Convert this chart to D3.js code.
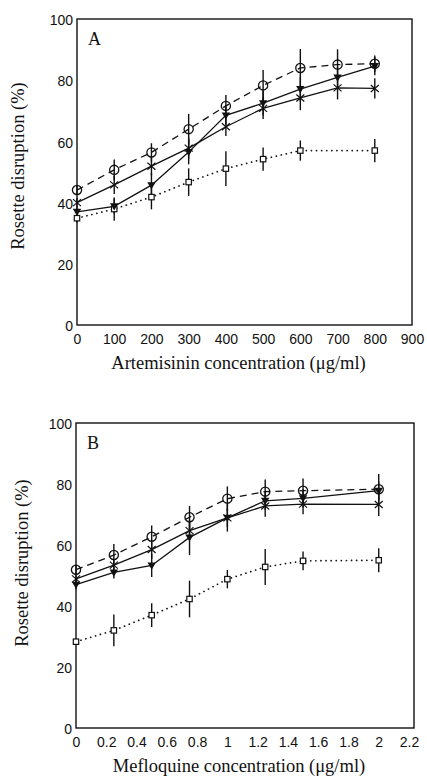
<!DOCTYPE html>
<html>
<head>
<meta charset="utf-8">
<script src="https://cdn.jsdelivr.net/npm/d3@7"></script>
<style>
  body { margin: 0; background: #fff; }
  svg { display: block; }
  .tick text { font-family: "Liberation Sans", Arial, sans-serif; font-size: 14px; fill: #111; }
  .title { font-family: "Liberation Serif", "Times New Roman", serif; fill: #111; }
</style>
</head>
<body>
<svg id="chart" width="427" height="776"></svg>
<script>
// Panel A: artemisinin (ug/ml)
const artConc = [0, 100, 200, 300, 400, 500, 600, 700, 800];
const artCircle = [44.1, 50.7, 56.4, 64.0, 71.6, 78.3, 84.0, 85.1, 85.4];
const artCircleErr = [1.5, 3.4, 3, 5, 3.6, 5, 6.2, 5, 2.7];
const artTriangle = [37.0, 38.8, 45.7, 56.5, 68.5, 72.5, 77.1, 80.9, 84.6];
const artTriangleErr = [1.5, 2.5, 4, 4, 3, 4, 4, 3.5, 3];
const artStar = [40.0, 45.8, 51.9, 57.8, 64.8, 70.8, 74.2, 77.5, 77.3];
const artStarErr = [1.5, 3, 3, 3.5, 3, 3.5, 4, 3.8, 3.3];
const artSquare = [34.9, 37.9, 41.8, 46.7, 51.1, 54.2, 57.0, null, 57.0];
const artSquareErr = [1.5, 3.8, 4, 4.5, 5.7, 3.8, 3.3, null, 3.8];
const artTicks = [0, 100, 200, 300, 400, 500, 600, 700, 800, 900];

// Panel B: mefloquine (ug/ml)
const mefConc = [0, 0.25, 0.5, 0.75, 1, 1.25, 1.5, 2];
const mefCircle = [51.9, 56.7, 62.7, 69.1, 75.2, 77.5, 77.8, 78.3];
const mefCircleErr = [1.5, 3.6, 3.7, 3.7, 4, 4, 4, 5];
const mefTriangle = [47.0, 51.0, 53.3, 62.5, 68.9, 74.5, 75.3, 77.8];
const mefTriangleErr = [1.5, 2, 3.8, 5.8, 4.5, 3, 3, 3];
const mefStar = [48.9, 53.4, 58.5, 64.7, 68.9, 72.8, 73.4, 73.3];
const mefStarErr = [1.5, 2, 3, 3, 3, 3.5, 3.3, 3.8];
const mefSquare = [28.3, 32.0, 37.0, 42.3, 48.8, 52.8, 54.8, 55.0];
const mefSquareErr = [1, 5.2, 3.9, 6, 3, 5.9, 3.1, 3.9];
const mefTicks = [0, 0.2, 0.4, 0.6, 0.8, 1, 1.2, 1.4, 1.6, 1.8, 2, 2.2];

const yTicks = [0, 20, 40, 60, 80, 100];

const svg = d3.select("#chart");
svg.append("rect").attr("width", 427).attr("height", 776).attr("fill", "#fff");

function makeSeries(xs, ys, errs, marker, dash) {
    return {
        marker: marker,
        dash: dash,
        points: xs.map((x, i) => ({ x: x, y: ys[i], e: errs[i] })).filter(p => p.y != null)
    };
}

function drawPanel(opts) {
    const { left, right, top, bottom, frameRight, domainX, ticksX, label, xTitle, series, yTitleX, yTitleY } = opts;
    const g = svg.append("g");

    const x = d3.scaleLinear().domain(domainX).range([left, right]);
    const y = d3.scaleLinear().domain([0, 100]).range([bottom, top]);

    // frame
    g.append("rect")
        .attr("x", left).attr("y", top)
        .attr("width", frameRight - left).attr("height", bottom - top)
        .attr("fill", "none").attr("stroke", "#111").attr("stroke-width", 1.4);

    const yAxis = g.append("g")
        .attr("transform", `translate(${left},0)`)
        .call(d3.axisLeft(y).tickValues(yTicks).tickSize(0).tickPadding(4));
    yAxis.select(".domain").remove();
    yAxis.selectAll("text").attr("dy", "0.4em");

    const fmt = d3.format("~g");
    const xAxis = g.append("g")
        .attr("transform", `translate(0,${bottom})`)
        .call(d3.axisBottom(x).tickValues(ticksX).tickFormat(fmt).tickSize(0).tickPadding(9));
    xAxis.select(".domain").remove();

    g.append("text").attr("class", "title")
        .attr("x", left + 11).attr("y", top + 26)
        .style("font-size", "18px")
        .text(label);

    g.append("text").attr("class", "title")
        .attr("x", (left + frameRight) / 2 - 6).attr("y", bottom + 44)
        .attr("text-anchor", "middle")
        .style("font-size", "18.5px")
        .text(xTitle);

    g.append("text").attr("class", "title")
        .attr("transform", `translate(${yTitleX},${yTitleY}) rotate(-90)`)
        .attr("text-anchor", "middle")
        .style("font-size", "18.5px")
        .text("Rosette disruption (%)");

    const line = d3.line().x(d => x(d.x)).y(d => y(d.y));

    series.forEach(s => {
        g.append("path")
            .attr("d", line(s.points))
            .attr("fill", "none")
            .attr("stroke", "#111")
            .attr("stroke-width", s.dash === "dot" ? 1.7 : 1.3)
            .attr("stroke-linecap", s.dash === "dot" ? "round" : "butt")
            .attr("stroke-dasharray", s.dash === "dash" ? "7,5" : s.dash === "dot" ? "0.1,5" : null);
    });

    series.forEach(s => {
        g.selectAll(null).data(s.points).join("line")
            .attr("x1", d => x(d.x)).attr("x2", d => x(d.x))
            .attr("y1", d => y(d.y - d.e)).attr("y2", d => y(d.y + d.e))
            .attr("stroke", "#111").attr("stroke-width", 1.4);
    });

    series.forEach(s => {
        const m = g.selectAll(null).data(s.points).join("g")
            .attr("transform", d => `translate(${x(d.x)},${y(d.y)})`);
        if (s.marker === "circle") {
            m.append("circle").attr("r", 4.6)
                .attr("fill", "none").attr("stroke", "#111").attr("stroke-width", 1.3);
        } else if (s.marker === "triangle") {
            m.append("path").attr("d", "M-4.2,-3L4.2,-3L0,4.2Z").attr("fill", "#111");
        } else if (s.marker === "star") {
            m.append("path").attr("d", "M-4,-3.5L4,3.5M-4,3.5L4,-3.5")
                .attr("stroke", "#111").attr("stroke-width", 1.2);
        } else {
            m.append("rect").attr("x", -2.7).attr("y", -2.7).attr("width", 5.4).attr("height", 5.4)
                .attr("fill", "#fff").attr("stroke", "#111").attr("stroke-width", 1.2);
        }
    });
}

drawPanel({
    left: 77, right: 412, top: 19, bottom: 325, frameRight: 412,
    domainX: [0, 900], ticksX: artTicks, label: "A", yTitleX: 24, yTitleY: 166,
    xTitle: "Artemisinin concentration (\u03bcg/ml)",
    series: [
        makeSeries(artConc, artSquare, artSquareErr, "square", "dot"),
        makeSeries(artConc, artStar, artStarErr, "star", null),
        makeSeries(artConc, artTriangle, artTriangleErr, "triangle", null),
        makeSeries(artConc, artCircle, artCircleErr, "circle", "dash")
    ]
});

drawPanel({
    left: 76, right: 409, top: 423, bottom: 728, frameRight: 414,
    domainX: [0, 2.2], ticksX: mefTicks, label: "B", yTitleX: 28, yTitleY: 563,
    xTitle: "Mefloquine concentration (\u03bcg/ml)",
    series: [
        makeSeries(mefConc, mefSquare, mefSquareErr, "square", "dot"),
        makeSeries(mefConc, mefStar, mefStarErr, "star", null),
        makeSeries(mefConc, mefTriangle, mefTriangleErr, "triangle", null),
        makeSeries(mefConc, mefCircle, mefCircleErr, "circle", "dash")
    ]
});
</script>
</body>
</html>
